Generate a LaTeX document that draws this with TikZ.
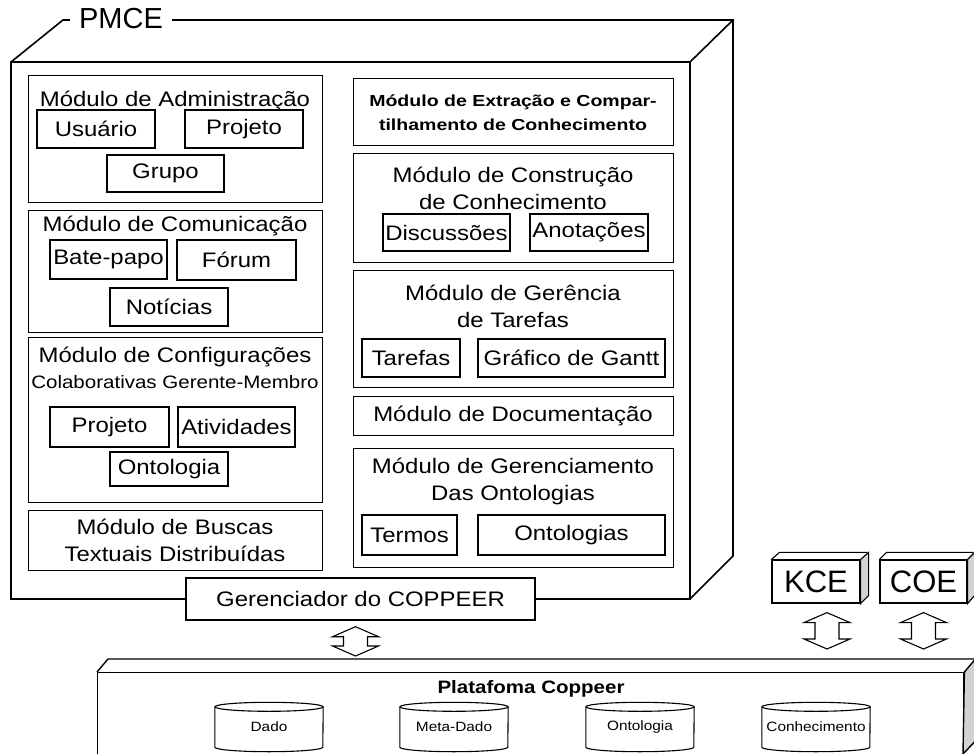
\documentclass[tikz,border=0pt]{standalone}
\usepackage{fontspec}
\setmainfont{Liberation Sans}
\newfontfamily\modfont{Liberation Sans}[FakeStretch=1.14]
\newfontfamily\extfont{Liberation Sans}[FakeStretch=1.22]
\usetikzlibrary{calc}

\tikzset{
  frameline/.style={line width=1.6pt, line join=miter},
  modbox/.style={draw, line width=1.2pt, anchor=north west, inner sep=0pt},
  subbox/.style={draw, line width=1.2pt, inner sep=0pt, font=\modfont\fontsize{21}{25}\selectfont},
  ttl/.style={inner sep=0pt, align=center, font=\modfont\fontsize{21}{27}\selectfont},
  ttlsmall/.style={inner sep=0pt, font=\modfont\fontsize{18}{22}\selectfont},
  exttxt/.style={inner sep=0pt, align=center, font=\extfont\bfseries\fontsize{16}{24}\selectfont},
  bigtxt/.style={inner sep=0pt, font=\fontsize{29}{32}\selectfont},
  boxtxt/.style={draw, line width=1.2pt, inner sep=0pt, font=\fontsize{31}{34}\selectfont},
  plattxt/.style={inner sep=0pt, font=\modfont\bfseries\fontsize{18}{22}\selectfont},
  drumtxt/.style={inner sep=0pt, minimum width=108pt, minimum height=40pt, font=\modfont\fontsize{13.5}{16}\selectfont},
  drumline/.style={line width=1.1pt},
  sideface/.style={draw, line width=1.1pt, fill=gray!35, line join=miter},
  arrowline/.style={draw, line width=1.1pt, fill=white, line join=miter}
}

% hollow double-headed block arrow between two named tip points
\newcommand\dblarrow[2]{%
  \draw[arrowline] (#1) -- ($(#1)+(-23,10)$) -- ($(#1)+(-12,10)$)
    -- ($(#2)+(-12,-10)$) -- ($(#2)+(-23,-10)$) -- (#2)
    -- ($(#2)+(23,-10)$) -- ($(#2)+(12,-10)$)
    -- ($(#1)+(12,10)$) -- ($(#1)+(23,10)$) -- cycle;}

\begin{document}
\begin{tikzpicture}[x=1pt, y=-1pt]
\useasboundingbox (0,0) rectangle (974,754);

% ---------------- PMCE container ----------------
\node[bigtxt, inner xsep=9pt] (pmce) at (121,19) {PMCE};
\node[draw, line width=1.4pt, minimum width=349pt, minimum height=42pt, inner sep=0pt,
      font=\modfont\fontsize{21}{25}\selectfont] (ger) at (360.5,599) {Gerenciador do COPPEER};

\draw[frameline] (ger.west) -- (11,599) -- (11,62) -- (690,62) -- (690,599) -- (ger.east);
\draw[frameline] (11,62) -- (63,20) -- (pmce.west |- 0,20);
\draw[frameline] (pmce.east |- 0,20) -- (733,20) -- (733,556) -- (690,599);
\draw[frameline] (690,62) -- (733,20);

% ---- left column ----
\node[modbox, minimum width=294pt, minimum height=127pt] (adm) at (28,75) {};
\node[ttl] (admT) at (175,101) {Módulo de Administração};
\node[subbox, minimum width=118pt, minimum height=38pt] (usu) at (96,129) {Usuário};
\node[subbox, minimum width=118pt, minimum height=38pt] (proj) at (244,129) {Projeto};
\node[subbox, minimum width=117pt, minimum height=37pt] (grp) at (165.5,173.5) {Grupo};

\node[modbox, minimum width=294pt, minimum height=122pt] (com) at (28,210) {};
\node[ttl] (comT) at (175,226) {Módulo de Comunicação};
\node[subbox, minimum width=117pt, minimum height=39pt] (bate) at (108.5,259.5) {Bate-papo};
\node[subbox, minimum width=119pt, minimum height=40pt] (forum) at (236.5,260) {Fórum};
\node[subbox, minimum width=118pt, minimum height=38pt] (noti) at (169,307) {Notícias};

\node[modbox, minimum width=294pt, minimum height=165pt] (cfg) at (28,337) {};
\node[ttl] (cfgT) at (175,357) {Módulo de Configurações};
\node[ttlsmall] (cfgS) at (175,382) {Colaborativas Gerente-Membro};
\node[subbox, minimum width=119pt, minimum height=40pt] (cproj) at (109.5,427) {Projeto};
\node[subbox, minimum width=117pt, minimum height=40pt] (ativ) at (236.5,427) {Atividades};
\node[subbox, minimum width=118pt, minimum height=34pt] (conto) at (169,469) {Ontologia};

\node[modbox, minimum width=294pt, minimum height=60pt] (busc) at (28,510) {};
\node[ttl] (buscT) at (175,540) {Módulo de Buscas\\Textuais Distribuídas};

% ---- right column ----
\node[modbox, minimum width=320pt, minimum height=67pt] (ext) at (353,78) {};
\node[exttxt] (extT) at (513,113) {Módulo de Extração e Compar-\\tilhamento de Conhecimento};

\node[modbox, minimum width=320pt, minimum height=109pt] (cons) at (353,153) {};
\node[ttl] (consT) at (513,188.5) {Módulo de Construção\\de Conhecimento};
\node[subbox, minimum width=127pt, minimum height=37pt] (disc) at (446.5,232.5) {Discussões};
\node[subbox, minimum width=118pt, minimum height=37pt] (anot) at (589,232.5) {Anotações};

\node[modbox, minimum width=320pt, minimum height=117pt] (gert) at (353,270) {};
\node[ttl] (gertT) at (513,306) {Módulo de Gerência\\de Tarefas};
\node[subbox, minimum width=98pt, minimum height=38pt] (taref) at (411,358) {Tarefas};
\node[subbox, minimum width=187pt, minimum height=38pt] (gantt) at (571.5,358) {Gráfico de Gantt};

\node[modbox, minimum width=320pt, minimum height=39pt] (doc) at (353,396) {};
\node[ttl] (docT) at (513,415.5) {Módulo de Documentação};

\node[modbox, minimum width=320pt, minimum height=119pt] (gont) at (353,448) {};
\node[ttl] (gontT) at (513,481.5) {Módulo de Gerenciamento\\Das Ontologias};
\node[subbox, minimum width=95pt, minimum height=40pt] (termos) at (409.5,535) {Termos};
\node[subbox, minimum width=187pt, minimum height=40pt] (ontos) at (571.5,535) {Ontologias};

% ---------------- KCE and COE ----------------
\node[boxtxt, minimum width=88pt, minimum height=43pt] (kce) at (816,581.5) {KCE};
\draw[sideface] (kce.north east) -- ++(8,-7) -- ++(0,43) -- (kce.south east) -- cycle;
\draw[line width=1.1pt] (kce.north west) -- ++(8,-7) -- ++(88,0);
\node[boxtxt, minimum width=87pt, minimum height=43pt] (coe) at (923.5,581.5) {COE};
\draw[sideface] (coe.north east) -- ++(7,-7) -- ++(0,43) -- (coe.south east) -- cycle;
\draw[line width=1.1pt] (coe.north west) -- ++(7,-7) -- ++(87,0);

% ---------------- Coppeer platform ----------------
\node[draw, line width=1.4pt, anchor=north west, minimum width=866pt, minimum height=90pt, inner sep=0pt] (plat) at (97,672) {};
\draw[line width=1.4pt] (plat.north west) -- ++(11,-13) -- ++(866,0);
\draw[sideface, line width=1.4pt] (plat.north east) -- ++(11,-13) -- ++(0,82) -- (963,754) -- cycle;
\node[plattxt] (platT) at (531,689) {Platafoma Coppeer};

\node[drumtxt] (dado) at (269,727) {Dado};
\node[drumtxt] (meta) at (454,727) {Meta-Dado};
\node[drumtxt] (onto) at (640,727) {Ontologia};
\node[drumtxt] (conh) at (816,727) {Conhecimento};
\foreach \n in {dado,meta,onto,conh}{
  \draw[drumline] (\n.north) ellipse [x radius=54pt, y radius=4.5pt];
  \draw[drumline] (\n.north west) -- (\n.south west)
     arc[start angle=180, end angle=360, x radius=54pt, y radius=4.5pt] -- (\n.north east);
}

% ---------------- block arrows ----------------
\coordinate (a1t) at ($(ger.south)+(-5,6)$);
\coordinate (a1b) at ($(a1t |- plat.north)+(0,-16)$);
\dblarrow{a1t}{a1b}
\coordinate (a2t) at ($(kce.south)+(11,9)$);
\coordinate (a2b) at ($(a2t |- plat.north)+(0,-23)$);
\dblarrow{a2t}{a2b}
\coordinate (a3t) at ($(coe.south)+(0,9)$);
\coordinate (a3b) at ($(a3t |- plat.north)+(0,-23)$);
\dblarrow{a3t}{a3b}
\end{tikzpicture}
\end{document}
